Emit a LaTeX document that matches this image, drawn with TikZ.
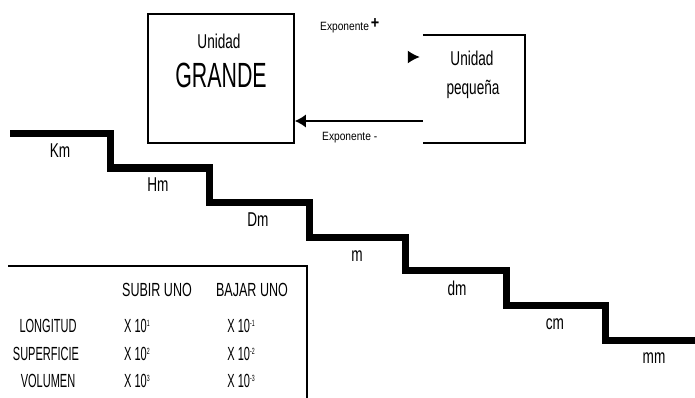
\documentclass[tikz,border=0pt]{standalone}
\usepackage{fontspec}
\setmainfont{Liberation Sans}
\newfontfamily\narrowfont[FakeStretch=0.68]{Liberation Sans}
\newfontfamily\bignarrow[FakeStretch=0.61]{Liberation Sans}
\newfontfamily\tablefont[FakeStretch=0.58]{Liberation Sans}
\newfontfamily\headfont[FakeStretch=0.66]{Liberation Sans}
\newfontfamily\expfont[FakeStretch=0.85]{Liberation Sans}
\usetikzlibrary{arrows.meta}
% raised exponent in the table
\newcommand\pw[1]{\raisebox{6pt}{\fontsize{9}{9}\selectfont #1}}

\begin{document}
\begin{tikzpicture}[x=1pt,y=-1pt,
  box/.style={draw, line width=1.5pt, inner sep=0},
  lbl/.style={font=\narrowfont\fontsize{20}{20}\selectfont, inner sep=0},
  tab/.style={font=\tablefont\fontsize{19}{19}\selectfont, inner sep=0},
  hdr/.style={font=\headfont\fontsize{19}{19}\selectfont, inner sep=0},
  expo/.style={font=\expfont\fontsize{12}{12}\selectfont, inner sep=0},
  stair/.style={line width=7pt},
  rulestroke/.style={line width=2pt},
  tip/.style={-{Latex[length=11pt,width=13pt]}, line width=1.5pt}
]
\useasboundingbox (0,0) rectangle (695,398);

% large-unit box
\node[box, minimum width=146pt, minimum height=129pt] (big) at (221,78.5) {};
\node[lbl] (bigtitle) at (219,41) {Unidad};
\node[inner sep=0, font=\bignarrow\fontsize{35}{35}\selectfont] (grande) at (221,75) {GRANDE};

% small-unit box, open on its left side
\node[minimum width=102pt, minimum height=108pt, inner sep=0] (small) at (474,89) {};
\draw[line width=1.5pt] (small.north west) -- (small.north east) -- (small.south east) -- (small.south west);
\node[lbl] (smalltitle) at (472,58) {Unidad};
\node[lbl] (smallsub) at (473,89) {pequeña};

% conversion arrows
\coordinate (upY) at (0,57);
\coordinate (lowY) at (0,121);
\draw[-{Latex[length=12pt,width=13pt,color=black]}, draw=white, line width=1.5pt,
      shorten <=3pt, shorten >=3pt] (big.east |- upY) -- (small.west |- upY);
\draw[tip] (small.west |- lowY) -- (big.east |- lowY);
\node[expo, anchor=base west] (expup) at (320,31)
  {Exponente\,\raisebox{2pt}{\fontsize{17}{17}\selectfont\bfseries +}};
\node[expo, anchor=base west] (expdown) at (322,141) {Exponente -};

% staircase of length units
\draw[stair] (10,133.5) -| (110,168) -| (209.5,202) -| (309,237)
  -| (405,270) -| (506,305) -| (605,340) -- (695,340);
\node[lbl] (km) at (60,151) {Km};
\node[lbl] (hm) at (158,185) {Hm};
\node[lbl] (dam) at (258,220) {Dm};
\node[lbl] (m) at (357,256) {m};
\node[lbl] (dm) at (457,288) {dm};
\node[lbl] (cm) at (555,324) {cm};
\node[lbl] (mm) at (654,358) {mm};

% factor table
\draw[rulestroke] (8,266) -- (307,266) -- (307,398);
\node[hdr] (up) at (157,290) {SUBIR UNO};
\node[hdr] (down) at (252,290) {BAJAR UNO};
\node[tab] (long) at (48,326) {LONGITUD};
\node[tab] (sup) at (46,354) {SUPERFICIE};
\node[tab] (vol) at (48,381) {VOLUMEN};
\node[tab] (l1) at (137,326) {X 10\pw{1}};
\node[tab] (l2) at (241,326) {X 10\pw{-1}};
\node[tab] (s1) at (137,354) {X 10\pw{2}};
\node[tab] (s2) at (241,354) {X 10\pw{-2}};
\node[tab] (v1) at (137,381) {X 10\pw{3}};
\node[tab] (v2) at (241,381) {X 10\pw{-3}};
\end{tikzpicture}
\end{document}
